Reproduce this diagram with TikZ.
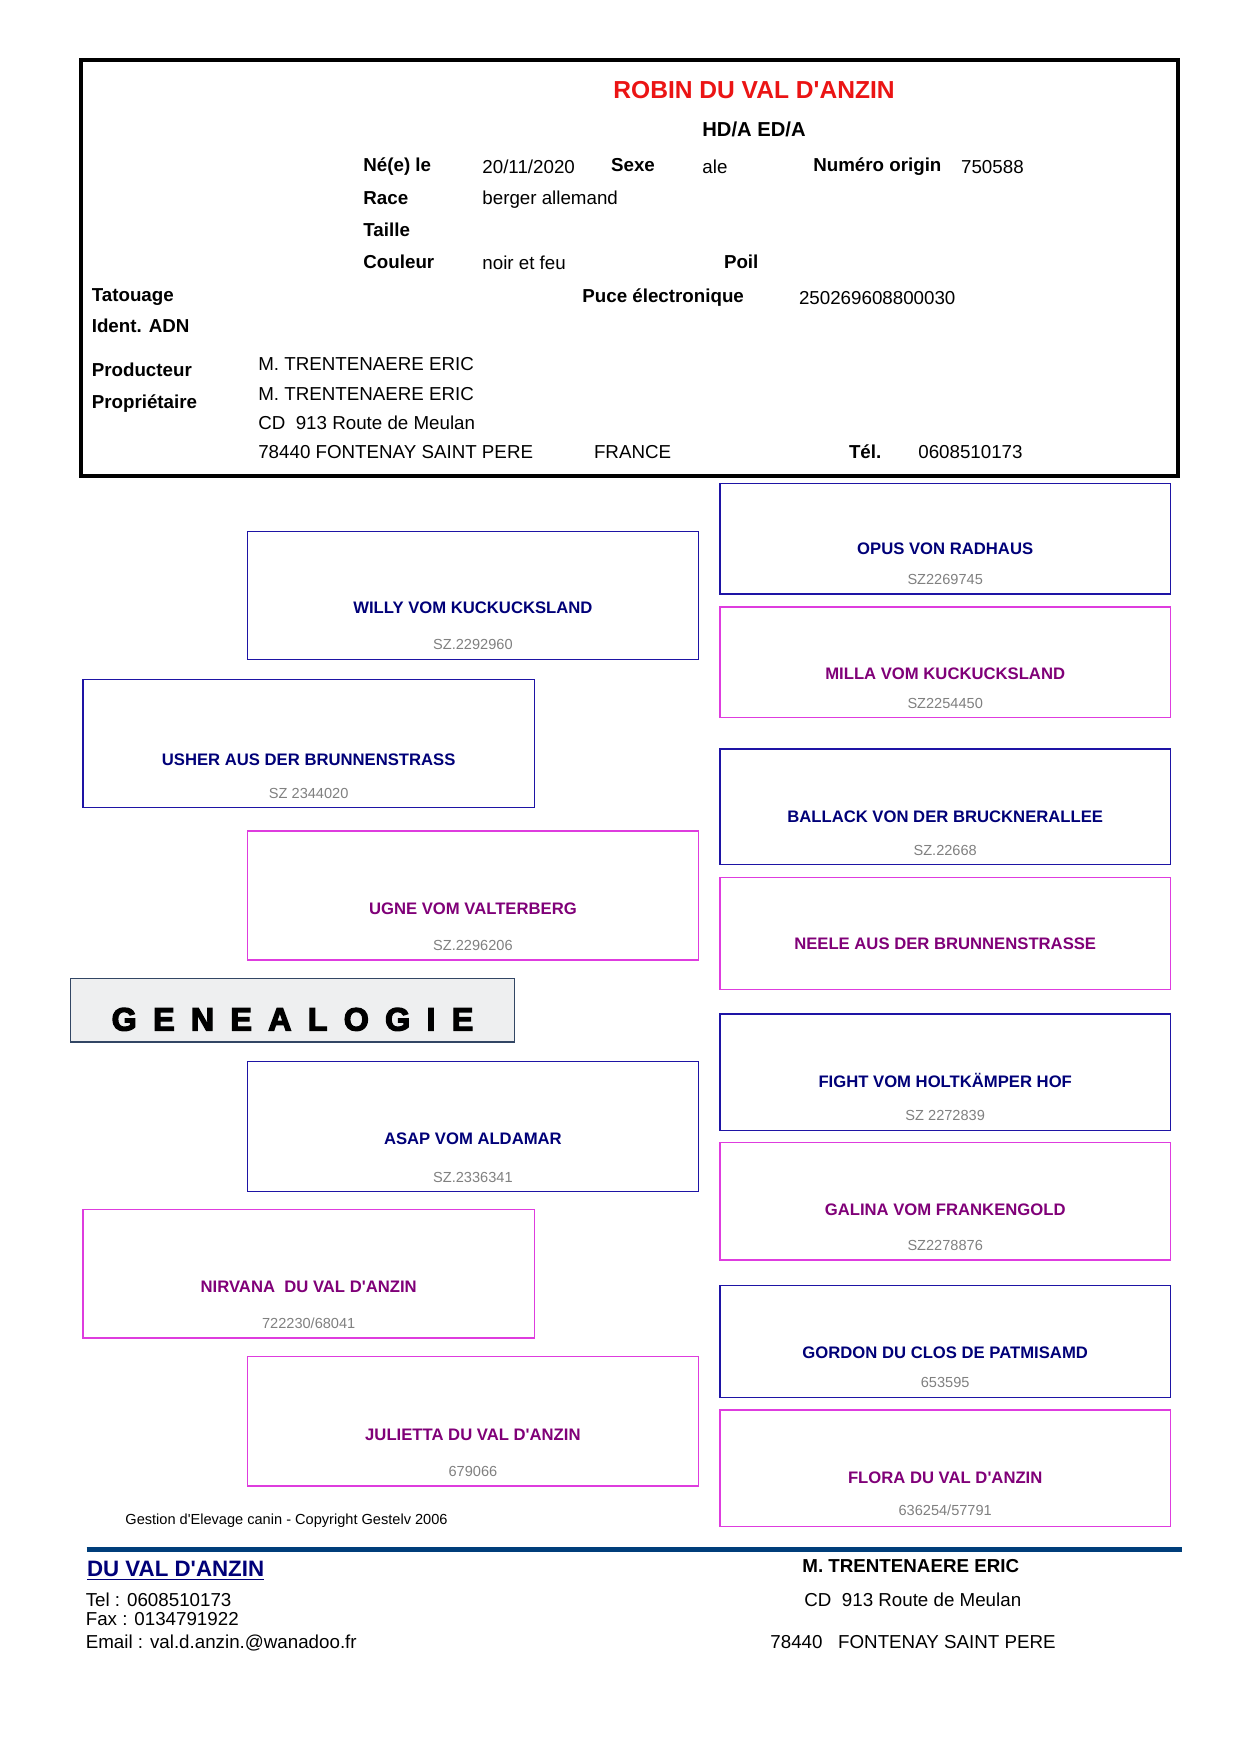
\documentclass[tikz,border=0pt]{standalone}
\usepackage{fontspec}
\setmainfont{Liberation Sans}
\newfontfamily\heavyfont[FakeBold=4]{Liberation Sans}
\usetikzlibrary{fit}
\definecolor{maleline}{RGB}{30,20,165}
\definecolor{femline}{RGB}{222,60,222}
\definecolor{malename}{RGB}{0,0,120}
\definecolor{femname}{RGB}{128,0,120}
\definecolor{regnum}{RGB}{128,128,128}
\definecolor{titlered}{RGB}{235,20,20}
\definecolor{footblue}{RGB}{0,62,122}
\definecolor{genfill}{RGB}{238,239,240}
\definecolor{genline}{RGB}{50,70,100}
\newcommand\gsp{\hspace{7.8pt}}
\newcommand\sq{\textquotesingle}
\begin{document}
\begin{tikzpicture}[x=0.48pt,y=-0.48pt,
  hdr/.style={anchor=base west,inner sep=0pt,font=\fontsize{9}{11}\selectfont},
  hlab/.style={hdr,font=\fontsize{9}{11}\selectfont\bfseries},
  malebox/.style={draw=maleline,line width=0.6pt,inner sep=0pt},
  fembox/.style={draw=femline,line width=0.6pt,inner sep=0pt},
  mname/.style={anchor=base,inner sep=0pt,text=malename,font=\fontsize{8}{10}\selectfont\bfseries},
  fname/.style={anchor=base,inner sep=0pt,text=femname,font=\fontsize{8}{10}\selectfont\bfseries},
  rnum/.style={anchor=base,inner sep=0pt,text=regnum,font=\fontsize{7}{9}\selectfont},
  foot/.style={anchor=base west,inner sep=0pt,font=\fontsize{9}{11}\selectfont}]
\useasboundingbox[fill=white] (0,0) rectangle (1240,1754);

% ---------- header box ----------
\node[draw=black,line width=1.6pt,inner sep=0pt,fit={(81,60) (1178,476)}] (header) {};
\node[anchor=base,inner sep=0pt,text=titlered,font=\fontsize{11.8}{14}\selectfont\bfseries] (title) at (754,98.3) {ROBIN DU VAL D\sq ANZIN};
\node[anchor=base,inner sep=0pt,font=\fontsize{9.7}{12}\selectfont\bfseries] (hd) at (754,136) {HD/A ED/A};

\node[hlab] (nel) at (363,171.7) {Né(e) le};
\node[hdr]  (nev) at (482,173.3) {20/11/2020};
\node[hlab] (sxl) at (610.7,171.7) {Sexe};
\node[hdr]  (sxv) at (702,173.3) {ale};
\node[hlab] (nol) at (812.9,171.7) {Numéro origin};
\node[hdr]  (nov) at (960.7,173.3) {750588};
\node[hlab] (ral) at (363,204) {Race};
\node[hdr]  (rav) at (482,204) {berger allemand};
\node[hlab] (tal) at (363,236) {Taille};
\node[hlab] (col) at (363,268.3) {Couleur};
\node[hdr]  (cov) at (482,269.5) {noir et feu};
\node[hlab] (pol) at (723.6,268.3) {Poil};
\node[hlab] (tat) at (91.4,301.7) {Tatouage};
\node[hlab] (pul) at (582,302.7) {Puce électronique};
\node[hdr]  (puv) at (798.6,304) {250269608800030};
\node[hlab] (adn) at (91.4,332.7) {Ident. ADN};
\node[hlab] (prl) at (91.4,376.7) {Producteur};
\node[hdr]  (prv) at (257.9,370.7) {M. TRENTENAERE ERIC};
\node[hlab] (pol2) at (91.4,408) {Propriétaire};
\node[hdr]  (pov) at (257.9,400) {M. TRENTENAERE ERIC};
\node[hdr]  (ad1) at (257.9,429) {CD\ \ 913 Route de Meulan};
\node[hdr]  (ad2) at (257.9,458.3) {78440 FONTENAY SAINT PERE};
\node[hdr]  (ad3) at (593.6,458.3) {FRANCE};
\node[hlab] (tel) at (848.6,458.3) {Tél.};
\node[hdr]  (tev) at (917.9,458.3) {0608510173};

% ---------- generation 1 ----------
\node[malebox,fit={(83.1,679.3) (534.3,807.3)}] (usher) {};
\node[mname] (usherN) at (308.7,765) {USHER AUS DER BRUNNENSTRASS};
\node[rnum]  (usherR) at (308.7,798.3) {SZ 2344020};

\node[fembox,fit={(83.1,1209.3) (534.3,1338)}] (nirvana) {};
\node[fname] (nirvanaN) at (308.7,1292.7) {NIRVANA\ \ DU VAL D\sq ANZIN};
\node[rnum]  (nirvanaR) at (308.7,1328.3) {722230/68041};

% ---------- generation 2 ----------
\node[malebox,fit={(247.3,531.3) (698.5,659.3)}] (willy) {};
\node[mname] (willyN) at (472.9,613.3) {WILLY VOM KUCKUCKSLAND};
\node[rnum]  (willyR) at (472.9,649.3) {SZ.2292960};

\node[fembox,fit={(247.3,831) (698.5,960)}] (ugne) {};
\node[fname] (ugneN) at (472.9,914.3) {UGNE VOM VALTERBERG};
\node[rnum]  (ugneR) at (472.9,950) {SZ.2296206};

\node[malebox,fit={(247.3,1061.7) (698.5,1191.3)}] (asap) {};
\node[mname] (asapN) at (472.9,1144.3) {ASAP VOM ALDAMAR};
\node[rnum]  (asapR) at (472.9,1182.3) {SZ.2336341};

\node[fembox,fit={(247.3,1356.7) (698.5,1486)}] (julietta) {};
\node[fname] (juliettaN) at (472.9,1440.7) {JULIETTA DU VAL D\sq ANZIN};
\node[rnum]  (juliettaR) at (472.9,1476.7) {679066};

% ---------- generation 3 ----------
\node[malebox,fit={(720,483.5) (1170.5,594)}] (opus) {};
\node[mname] (opusN) at (945.2,554) {OPUS VON RADHAUS};
\node[rnum]  (opusR) at (945.2,584.6) {SZ2269745};

\node[fembox,fit={(720,607) (1170.5,717.8)}] (milla) {};
\node[fname] (millaN) at (945.2,679) {MILLA VOM KUCKUCKSLAND};
\node[rnum]  (millaR) at (945.2,708.5) {SZ2254450};

\node[malebox,fit={(720,749) (1170.5,864.3)}] (ballack) {};
\node[mname] (ballackN) at (945.2,822) {BALLACK VON DER BRUCKNERALLEE};
\node[rnum]  (ballackR) at (945.2,855) {SZ.22668};

\node[fembox,fit={(720,877.7) (1170.5,989.5)}] (neele) {};
\node[fname] (neeleN) at (945.2,949.7) {NEELE AUS DER BRUNNENSTRASSE};

\node[malebox,fit={(720,1014.1) (1170.5,1130.4)}] (fight) {};
\node[mname] (fightN) at (945.2,1087) {FIGHT VOM HOLTKÄMPER HOF};
\node[rnum]  (fightR) at (945.2,1120) {SZ 2272839};

\node[fembox,fit={(720,1142.7) (1170.5,1260)}] (galina) {};
\node[fname] (galinaN) at (945.2,1215.8) {GALINA VOM FRANKENGOLD};
\node[rnum]  (galinaR) at (945.2,1250.8) {SZ2278876};

\node[malebox,fit={(720,1285.8) (1170.5,1397.6)}] (gordon) {};
\node[mname] (gordonN) at (945.2,1358.9) {GORDON DU CLOS DE PATMISAMD};
\node[rnum]  (gordonR) at (945.2,1387.2) {653595};

\node[fembox,fit={(720,1410) (1170.5,1526.2)}] (flora) {};
\node[fname] (floraN) at (945.2,1483) {FLORA DU VAL D\sq ANZIN};
\node[rnum]  (floraR) at (945.2,1515.8) {636254/57791};

% ---------- GENEALOGIE ----------
\node[draw=genline,fill=genfill,line width=0.6pt,inner sep=0pt,fit={(70.4,978.3) (514.3,1042)}] (genbox) {};
\node[anchor=base,inner sep=0pt,font=\heavyfont\fontsize{15.5}{18}\selectfont\bfseries] (gentext) at (292.5,1030.5)
  {G\gsp E\gsp N\gsp E\gsp A\gsp L\gsp O\gsp G\gsp I\gsp E};

% ---------- footer ----------
\node[anchor=base west,inner sep=0pt,font=\fontsize{7}{9}\selectfont] (gest) at (125,1524) {Gestion d\sq Elevage canin - Copyright Gestelv 2006};
\coordinate (fl1) at (86.7,1549);
\coordinate (fl2) at (1181.8,1549);
\draw[footblue,line width=2.4pt] (fl1) -- (fl2);

\node[anchor=base west,inner sep=0pt,text=malename,font=\fontsize{10.7}{13}\selectfont\bfseries] (kennel) at (86.7,1576) {\underline{DU VAL D\sq ANZIN}};
\node[foot] (ftel) at (85.4,1606) {Tel : 0608510173};
\node[foot] (ffax) at (85.4,1625.5) {Fax : 0134791922};
\node[foot] (fmail) at (85.4,1648) {Email : val.d.anzin.@wanadoo.fr};

\node[foot,font=\fontsize{9}{11}\selectfont\bfseries] (fown) at (802,1572.7) {M. TRENTENAERE ERIC};
\node[foot] (fad1) at (804,1606.7) {CD\ \ 913 Route de Meulan};
\node[foot] (fad2) at (770,1648.3) {78440\ \ \ FONTENAY SAINT PERE};
\end{tikzpicture}
\end{document}
